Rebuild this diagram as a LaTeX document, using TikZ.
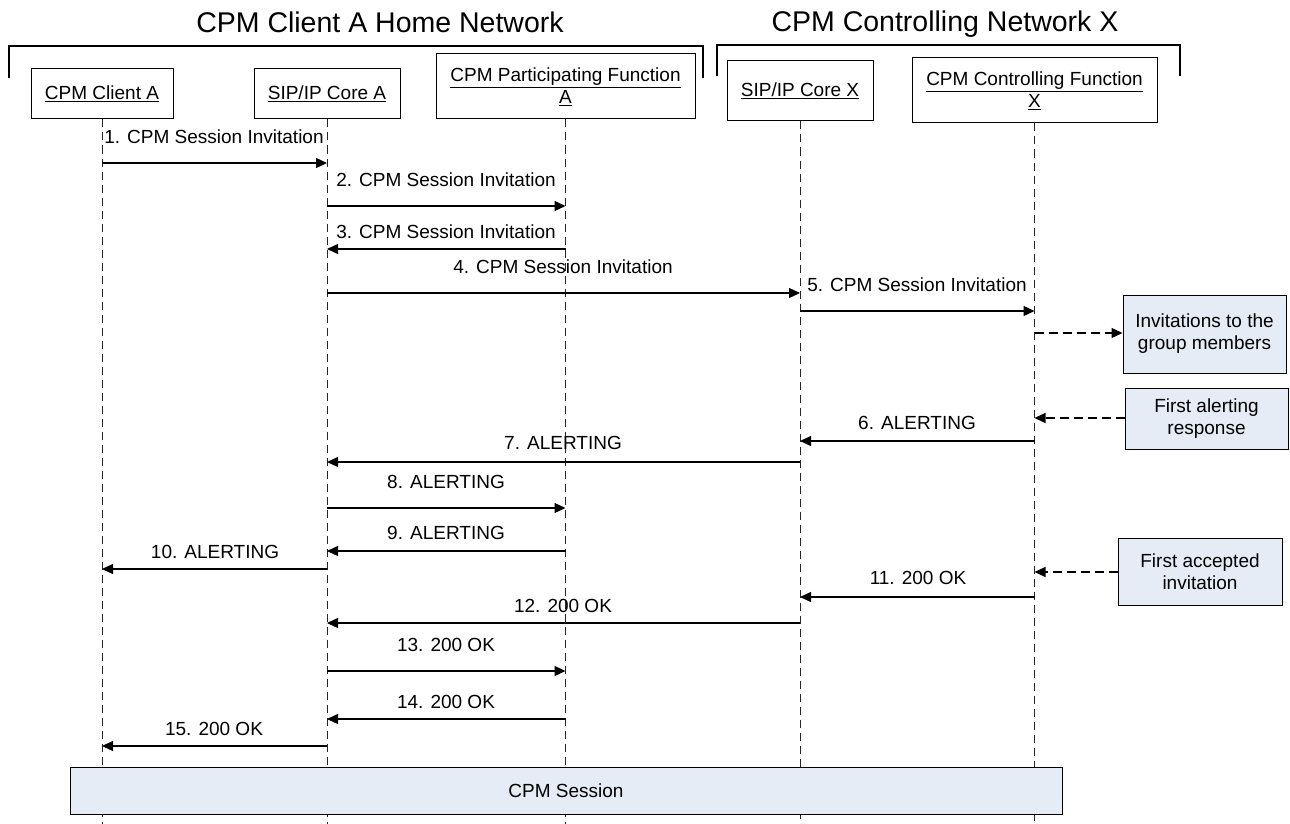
\documentclass[tikz,border=0pt]{standalone}
\usepackage{fontspec}
\setmainfont{Liberation Sans}
\usetikzlibrary{arrows.meta}
\definecolor{boxblue}{HTML}{E6ECF6}
\begin{document}
\begin{tikzpicture}[x=1pt,y=-1pt,
  every node/.style={font=\fontsize{19}{22}\selectfont, inner sep=0pt},
  actor/.style={draw, line width=1pt, fill=white, align=center},
  note/.style={draw, line width=1pt, fill=boxblue, align=center},
  life/.style={dash pattern=on 8pt off 5pt, line width=1pt, black!85},
  msg/.style={line width=1.2pt, -{Triangle[length=11pt,width=10pt]}},
  dmsg/.style={msg, dash pattern=on 9pt off 5pt},
  bracket/.style={line width=1.3pt},
  title/.style={font=\fontsize{28.5}{34}\selectfont, anchor=base}]
\useasboundingbox (0,0) rectangle (1290,824);
\coordinate (bottom) at (0,824);

% titles and brackets
\node[title] (t1) at (380,33) {CPM Client A Home Network};
\node[title] (t2) at (945,32) {CPM Controlling Network X};
\draw[bracket] (9,78) -- (9,46) -- (703,46) -- (703,78);
\draw[bracket] (717,76) -- (717,45) -- (1180,45) -- (1180,76);

% actors
\node[actor, minimum width=142, minimum height=50] (ca) at (102,94) {\underline{CPM Client A}};
\node[actor, minimum width=146, minimum height=50] (sa) at (327,94) {\underline{SIP/IP Core A}};
\node[actor, minimum width=259, minimum height=65] (pa) at (565.5,86.5) {\underline{CPM Participating Function}\\\underline{A}};
\node[actor, minimum width=146, minimum height=60] (sx) at (800,91) {\underline{SIP/IP Core X}};
\node[actor, minimum width=245, minimum height=65] (cx) at (1034.5,90.5) {\underline{CPM Controlling Function}\\\underline{X}};

% lifelines
\foreach \n in {ca,sa,pa,sx,cx}{
  \draw[life] (\n.south) -- (\n.south |- bottom);
}

% session box
\node[note, minimum width=992, minimum height=47] (sess) at (566,790.5) {CPM Session};

% notes on the right
\node[note, minimum width=163, minimum height=78] (inv) at (1204.5,334) {Invitations to the\\group members};
\node[note, minimum width=163, minimum height=61] (alr) at (1206.5,418.5) {First alerting\\response};
\node[note, minimum width=164, minimum height=67] (acc) at (1200,571.5) {First accepted\\invitation};

% message rows
\coordinate (m1) at (0,163);
\coordinate (m2) at (0,206);
\coordinate (m3) at (0,249);
\coordinate (m4) at (0,293);
\coordinate (m5) at (0,311);
\coordinate (d1) at (0,333);
\coordinate (d2) at (0,418);
\coordinate (m6) at (0,441);
\coordinate (m7) at (0,462);
\coordinate (m8) at (0,508);
\coordinate (m9) at (0,551);
\coordinate (m10) at (0,569);
\coordinate (d3) at (0,572);
\coordinate (m11) at (0,597);
\coordinate (m12) at (0,623);
\coordinate (m13) at (0,671);
\coordinate (m14) at (0,719);
\coordinate (m15) at (0,746);

\draw[msg] (ca.south |- m1) -- (sa.south |- m1);
\node (l1) at (214,137) {1. CPM Session Invitation};
\draw[msg] (sa.south |- m2) -- (pa.south |- m2);
\node (l2) at (446,180) {2. CPM Session Invitation};
\draw[msg] (pa.south |- m3) -- (sa.south |- m3);
\node (l3) at (446,232) {3. CPM Session Invitation};
\draw[msg] (sa.south |- m4) -- (sx.south |- m4);
\node (l4) at (563,267) {4. CPM Session Invitation};
\draw[msg] (sx.south |- m5) -- (cx.south |- m5);
\node (l5) at (917,285) {5. CPM Session Invitation};
\draw[dmsg] (cx.south |- d1) -- (inv.west |- d1);
\draw[dmsg] (alr.west |- d2) -- (cx.south |- d2);
\draw[msg] (cx.south |- m6) -- (sx.south |- m6);
\node (l6) at (917,423) {6. ALERTING};
\draw[msg] (sx.south |- m7) -- (sa.south |- m7);
\node (l7) at (563,443) {7. ALERTING};
\draw[msg] (sa.south |- m8) -- (pa.south |- m8);
\node (l8) at (446,482) {8. ALERTING};
\draw[msg] (pa.south |- m9) -- (sa.south |- m9);
\node (l9) at (446,533) {9. ALERTING};
\draw[msg] (sa.south |- m10) -- (ca.south |- m10);
\node (l10) at (215,552) {10. ALERTING};
\draw[dmsg] (acc.west |- d3) -- (cx.south |- d3);
\draw[msg] (cx.south |- m11) -- (sx.south |- m11);
\node (l11) at (918,578) {11. 200 OK};
\draw[msg] (sx.south |- m12) -- (sa.south |- m12);
\node (l12) at (563,606) {12. 200 OK};
\draw[msg] (sa.south |- m13) -- (pa.south |- m13);
\node (l13) at (446,645) {13. 200 OK};
\draw[msg] (pa.south |- m14) -- (sa.south |- m14);
\node (l14) at (446,702) {14. 200 OK};
\draw[msg] (sa.south |- m15) -- (ca.south |- m15);
\node (l15) at (214,729) {15. 200 OK};
\end{tikzpicture}
\end{document}
